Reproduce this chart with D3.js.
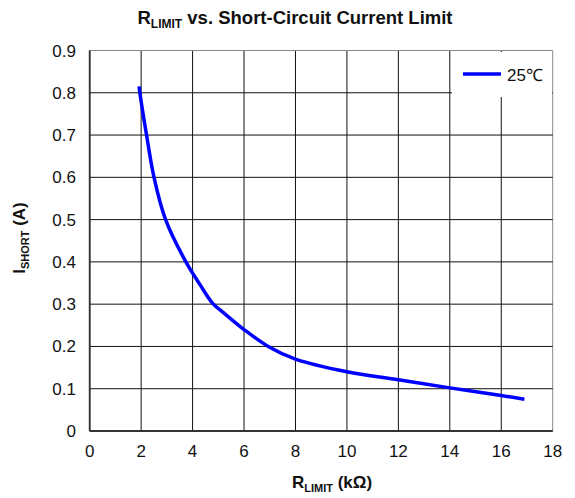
<!DOCTYPE html>
<html>
  <head>
    <meta http-equiv="Content-Type" content="text/html; charset=UTF-8">
    <script type="text/javascript" src="https://cdn.jsdelivr.net/npm/d3@7"></script>
    <style>
      body { margin: 0; background: #fff; }
      text { font-family: "Liberation Sans", Arial, sans-serif; }
    </style>
  </head>
  <body>
    <div id="chart"></div>
    <script>
// values
var rLimit = [1.92, 1.95, 2.21, 2.5, 2.95, 3.74, 4.3, 4.78, 5.2, 6, 6.94, 8, 10, 12, 14, 16, 16.9];
var iShort = [0.815, 0.8, 0.7, 0.6, 0.5, 0.4, 0.345, 0.302, 0.28, 0.24, 0.2, 0.17, 0.14, 0.121, 0.102, 0.084, 0.075];
var xTicks = [0, 2, 4, 6, 8, 10, 12, 14, 16, 18];
var yTicks = [0, 0.1, 0.2, 0.3, 0.4, 0.5, 0.6, 0.7, 0.8, 0.9];
var seriesName = "25\u2103";

var width = 575, height = 498;
var margin = {top: 50.5, left: 89.7, bottom: 67, right: 22.3};
var w = width - margin.left - margin.right;
var h = height - margin.top - margin.bottom;

var svg = d3.select("#chart").append("svg")
    .attr("width", width)
    .attr("height", height);

var x = d3.scaleLinear().domain([0, 18]).range([margin.left, margin.left + w]);
var y = d3.scaleLinear().domain([0, 0.9]).range([margin.top + h, margin.top]);

// grid
svg.append("g").selectAll("line.v")
    .data(xTicks)
  .enter().append("line")
    .attr("stroke", d => d === 18 ? "#888" : "#111")
    .attr("stroke-width", 1)
    .attr("x1", d => x(d)).attr("x2", d => x(d))
    .attr("y1", y(0)).attr("y2", y(0.9));

svg.append("g").selectAll("line.h")
    .data(yTicks)
  .enter().append("line")
    .attr("stroke", d => d === 0.9 ? "#888" : "#111")
    .attr("stroke-width", 1)
    .attr("x1", x(0)).attr("x2", x(18))
    .attr("y1", d => y(d)).attr("y2", d => y(d));

// axes lines
svg.append("line")
    .attr("stroke", "#333").attr("stroke-width", 1.8)
    .attr("x1", x(0)).attr("x2", x(0)).attr("y1", y(0)).attr("y2", y(0.9));
svg.append("line")
    .attr("stroke", "#333").attr("stroke-width", 1.8)
    .attr("x1", x(0)).attr("x2", x(18)).attr("y1", y(0)).attr("y2", y(0));

// tick labels
svg.append("g").selectAll("text")
    .data(xTicks)
  .enter().append("text")
    .attr("x", d => x(d))
    .attr("y", y(0) + 26)
    .attr("text-anchor", "middle")
    .attr("font-size", "17px")
    .attr("fill", "#111")
    .text(d => d);

svg.append("g").selectAll("text")
    .data(yTicks)
  .enter().append("text")
    .attr("x", 76)
    .attr("y", d => y(d) + 6)
    .attr("text-anchor", "end")
    .attr("font-size", "17px")
    .attr("fill", "#111")
    .text(d => d === 0 ? "0" : d3.format(".1f")(d));

// legend box
svg.append("rect")
    .attr("x", 452).attr("y", 52)
    .attr("width", 100).attr("height", 45)
    .attr("fill", "#fff");
svg.append("line")
    .attr("stroke", "#0000ff").attr("stroke-width", 3.5)
    .attr("x1", 463).attr("x2", 501).attr("y1", 74).attr("y2", 74);
svg.append("text")
    .attr("x", 507).attr("y", 81)
    .attr("font-size", "17px")
    .attr("fill", "#111")
    .text(seriesName);

// curve
var line = d3.line()
    .x((d, i) => x(rLimit[i]))
    .y(d => y(d))
    .curve(d3.curveCatmullRom.alpha(0.5));

svg.append("path")
    .datum(iShort)
    .attr("fill", "none")
    .attr("stroke", "#0000ff")
    .attr("stroke-width", 3.5)
    .attr("d", line);

// title
var title = svg.append("text")
    .attr("x", 295).attr("y", 24)
    .attr("text-anchor", "middle")
    .attr("font-size", "18.5px")
    .attr("font-weight", "bold")
    .attr("fill", "#111");
title.append("tspan").text("R");
title.append("tspan").attr("font-size", "12px").attr("dy", 4).text("LIMIT");
title.append("tspan").attr("dy", -4).text(" vs. Short-Circuit Current Limit");

// x title
var xt = svg.append("text")
    .attr("x", 332).attr("y", 488)
    .attr("text-anchor", "middle")
    .attr("font-size", "17px")
    .attr("font-weight", "bold")
    .attr("fill", "#111");
xt.append("tspan").text("R");
xt.append("tspan").attr("font-size", "11px").attr("dy", 4).text("LIMIT");
xt.append("tspan").attr("dy", -4).text(" (k\u03A9)");

// y title
var yt = svg.append("text")
    .attr("transform", "translate(25,238) rotate(-90)")
    .attr("text-anchor", "middle")
    .attr("font-size", "17px")
    .attr("font-weight", "bold")
    .attr("fill", "#111");
yt.append("tspan").text("I");
yt.append("tspan").attr("font-size", "11px").attr("dy", 4).text("SHORT");
yt.append("tspan").attr("dy", -4).text(" (A)");
    </script>
</body></html>
